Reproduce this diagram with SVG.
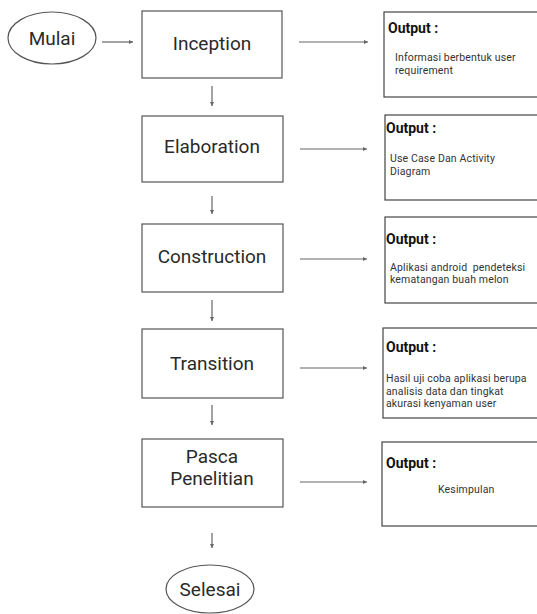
<svg xmlns="http://www.w3.org/2000/svg" width="537" height="614" viewBox="0 0 537 614">
<style>
.bg{fill:#fff}
.box{fill:#fff;stroke:#555;stroke-width:1.2}
.obox{fill:#fff;stroke:#444;stroke-width:1.2}
.title{font-family:Roboto,"Liberation Sans",sans-serif;font-size:19px;fill:#2a2a2a;text-anchor:middle}
.oh{font-family:Roboto,"Liberation Sans",sans-serif;font-size:14px;font-weight:bold;fill:#111}
.ot{font-family:Roboto,"Liberation Sans",sans-serif;font-size:10.5px;fill:#333;letter-spacing:0.15px;white-space:pre}
.conn line{stroke:#666;stroke-width:1.2;marker-end:url(#ah)}
</style>
<defs>
<marker id="ah" viewBox="0 0 6 6" refX="5" refY="3" markerWidth="5" markerHeight="5" orient="auto" markerUnits="userSpaceOnUse">
<path d="M0,0.5 L5,3 L0,5.5 Z" fill="#666"/>
</marker>
</defs>
<rect class="bg" x="0" y="0" width="537" height="614"/>

<g id="mulai">
<ellipse class="box" cx="52" cy="38" rx="44" ry="26"/>
<text class="title" x="52" y="45">Mulai</text>
</g>
<g id="inception">
<rect class="box" x="142" y="11" width="140" height="67"/>
<text class="title" x="212" y="50">Inception</text>
</g>
<g id="elaboration">
<rect class="box" x="142" y="116" width="141" height="66"/>
<text class="title" x="212" y="153">Elaboration</text>
</g>
<g id="construction">
<rect class="box" x="142" y="224" width="141" height="68"/>
<text class="title" x="212" y="263">Construction</text>
</g>
<g id="transition">
<rect class="box" x="142" y="329" width="141" height="69"/>
<text class="title" x="212" y="370">Transition</text>
</g>
<g id="pasca">
<rect class="box" x="142" y="439" width="141" height="68"/>
<text class="title" x="212" y="463">Pasca</text>
<text class="title" x="212" y="485">Penelitian</text>
</g>
<g id="selesai">
<ellipse class="box" cx="210" cy="589" rx="44" ry="24"/>
<text class="title" x="210" y="596">Selesai</text>
</g>

<g id="output1">
<rect class="obox" x="384" y="12" width="160" height="85"/>
<text class="oh" x="388" y="33">Output :</text>
<text class="ot" x="395" y="61">Informasi berbentuk user</text>
<text class="ot" x="395" y="73.5">requirement</text>
</g>
<g id="output2">
<rect class="obox" x="385" y="115" width="160" height="85"/>
<text class="oh" x="386" y="133">Output :</text>
<text class="ot" x="390" y="162">Use Case Dan Activity</text>
<text class="ot" x="390" y="174.5">Diagram</text>
</g>
<g id="output3">
<rect class="obox" x="385" y="217" width="160" height="86"/>
<text class="oh" x="386" y="244">Output :</text>
<text class="ot" x="390" y="270.5">Aplikasi android  pendeteksi</text>
<text class="ot" x="390" y="283">kematangan buah melon</text>
</g>
<g id="output4">
<rect class="obox" x="383" y="328" width="160" height="90"/>
<text class="oh" x="386" y="352">Output :</text>
<text class="ot" x="386" y="382">Hasil uji coba aplikasi berupa</text>
<text class="ot" x="386" y="394.5">analisis data dan tingkat</text>
<text class="ot" x="386" y="407">akurasi kenyaman user</text>
</g>
<g id="output5">
<rect class="obox" x="382" y="442" width="160" height="84"/>
<text class="oh" x="386" y="468">Output :</text>
<text class="ot" x="438" y="493">Kesimpulan</text>
</g>

<g id="connectors" class="conn">
<line x1="102" y1="42" x2="133" y2="42"/>
<line x1="299" y1="42" x2="368" y2="42"/>
<line x1="300" y1="149" x2="367" y2="149"/>
<line x1="300" y1="259" x2="367" y2="259"/>
<line x1="300" y1="368" x2="367" y2="368"/>
<line x1="300" y1="482" x2="367" y2="482"/>
<line x1="212" y1="86" x2="212" y2="106"/>
<line x1="212" y1="196" x2="212" y2="214"/>
<line x1="212" y1="300" x2="212" y2="321"/>
<line x1="212" y1="405" x2="212" y2="425"/>
<line x1="212" y1="533" x2="212" y2="548"/>
</g>
</svg>
